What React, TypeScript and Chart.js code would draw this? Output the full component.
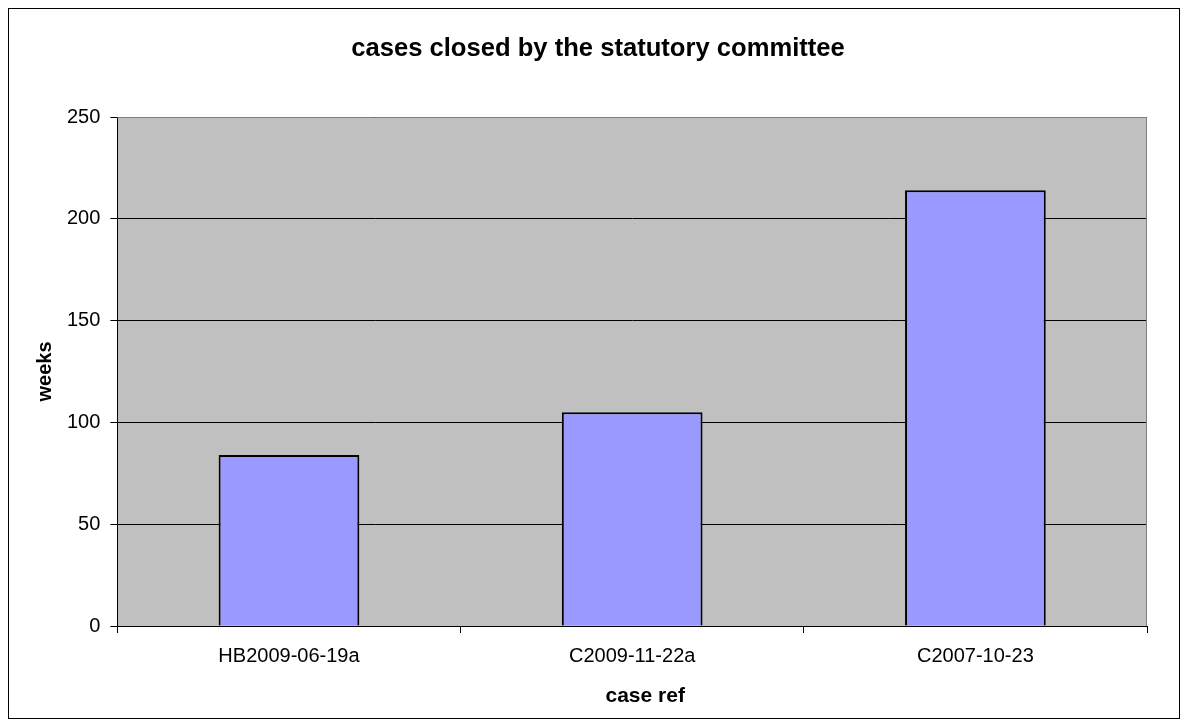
import React, { useEffect, useRef } from "react";
import { Chart, registerables } from "chart.js";

Chart.register(...registerables);

const caseRefs = ["HB2009-06-19a", "C2009-11-22a", "C2007-10-23"];
const weeks = [84, 105, 214];
const yTicks = [0, 50, 100, 150, 200, 250];

const chartTitle = "cases closed by the statutory committee";
const xTitle = "case ref";
const yTitle = "weeks";

const FONT = "'Liberation Sans', Arial, sans-serif";

// Grey plot background with a grey frame on the top and right edges,
// plus the chart title and the category-axis title
const plotDecor = {
  id: "plotDecor",
  beforeDraw(chart: any) {
    const { ctx, chartArea: a } = chart;
    ctx.save();
    ctx.fillStyle = "#C0C0C0";
    ctx.fillRect(a.left, a.top, a.right - a.left, a.bottom - a.top);
    ctx.restore();
  },
  afterDraw(chart: any) {
    const { ctx, chartArea: a, width } = chart;
    ctx.save();
    ctx.strokeStyle = "#808080";
    ctx.lineWidth = 1;
    ctx.beginPath();
    ctx.moveTo(a.left, a.top + 0.5);
    ctx.lineTo(a.right - 0.5, a.top + 0.5);
    ctx.lineTo(a.right - 0.5, a.bottom);
    ctx.stroke();

    ctx.fillStyle = "#000";
    ctx.textAlign = "center";
    ctx.textBaseline = "middle";
    ctx.font = `bold 25.6px ${FONT}`;
    ctx.fillText(chartTitle, width / 2 + 4, 39.5);
    ctx.font = `bold 21px ${FONT}`;
    ctx.fillText(xTitle, (a.left + a.right) / 2 + 13, a.bottom + 70);
    ctx.restore();
  },
};

export default function App() {
  const ref = useRef<HTMLCanvasElement>(null);

  useEffect(() => {
    if (!ref.current) return;
    const chart = new Chart(ref.current, {
      type: "bar",
      data: {
        labels: caseRefs,
        datasets: [
          {
            label: yTitle,
            data: weeks,
            backgroundColor: "#9999FF",
            borderColor: "#000000",
            borderWidth: 2,
            barPercentage: 0.41,
            categoryPercentage: 1,
          },
        ],
      },
      options: {
        animation: false,
        responsive: false,
        layout: { padding: { top: 108, right: 32, bottom: 39, left: 10 } },
        plugins: {
          legend: { display: false },
          tooltip: { enabled: false },
          title: { display: false },
        },
        scales: {
          x: {
            offset: true,
            grid: {
              offset: true,
              drawOnChartArea: false,
              drawTicks: true,
              tickLength: 7,
              color: "#000",
            },
            border: { color: "#000", width: 1 },
            ticks: {
              color: "#000",
              font: { family: FONT, size: 20 },
              padding: 11,
            },
          },
          y: {
            min: 0,
            max: 250,
            afterBuildTicks(axis: any) {
              axis.ticks = yTicks.map((v) => ({ value: v }));
            },
            grid: {
              color: "#000",
              lineWidth: 1,
              drawTicks: true,
              tickLength: 7,
            },
            border: { color: "#000", width: 1 },
            ticks: {
              color: "#000",
              font: { family: FONT, size: 20 },
              padding: 10,
            },
            title: {
              display: true,
              text: yTitle,
              color: "#000",
              font: { family: FONT, size: 20, weight: "bold" },
              padding: { top: 14, bottom: 0 },
            },
          },
        },
      },
      plugins: [plotDecor],
    });
    return () => chart.destroy();
  }, []);

  return (
    <div
      style={{
        width: 1172,
        height: 711,
        border: "1px solid #000",
        boxSizing: "border-box",
        background: "#fff",
      }}
    >
      <canvas ref={ref} width={1170} height={709} style={{ display: "block" }} />
    </div>
  );
}
